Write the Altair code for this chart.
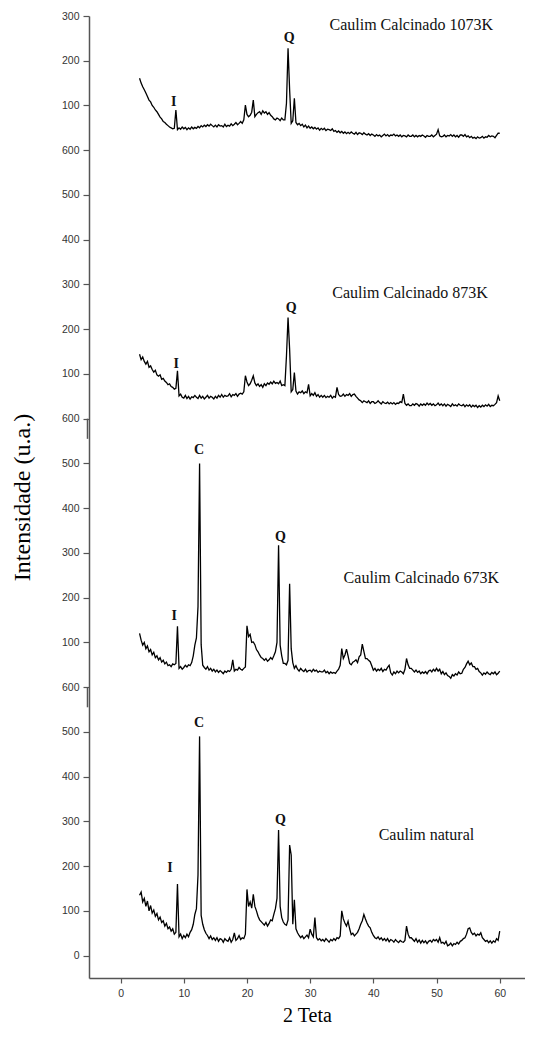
import altair as alt
import pandas as pd

# 2-theta sampling grid start / step (degrees)
theta_start = 3.0
theta_step = 0.25

# Caulim natural (panel offset 0)
natural = [
    135, 142, 120, 128,   # 3
    110, 122, 100, 112,   # 4
    95, 102, 88, 94,      # 5
    80, 86, 74, 78,       # 6
    66, 72, 60, 64,       # 7
    55, 60, 48, 52,       # 8
    160, 42, 48, 38,      # 9
    45, 40, 48, 42,       # 10
    52, 58, 70, 92,       # 11
    105, 180, 490, 90,    # 12
    70, 58, 50, 45,       # 13
    38, 44, 36, 40,       # 14
    34, 40, 32, 38,       # 15
    36, 30, 38, 34,       # 16
    32, 40, 30, 36,       # 17
    51, 34, 38, 45,       # 18
    36, 40, 38, 48,       # 19
    148, 110, 120, 106,   # 20
    137, 110, 100, 88,    # 21
    80, 76, 72, 68,       # 22
    74, 66, 72, 80,       # 23
    78, 92, 105, 128,     # 24
    281, 110, 85, 75,     # 25
    70, 68, 80, 247,      # 26
    225, 70, 125, 60,     # 27
    51, 45, 40, 44,       # 28
    38, 42, 46, 40,       # 29
    59, 48, 42, 85,       # 30
    40, 35, 38, 33,       # 31
    36, 32, 38, 34,       # 32
    30, 36, 33, 38,       # 33
    34, 40, 38, 44,       # 34
    100, 82, 73, 66,      # 35
    77, 60, 47, 50,       # 36
    44, 48, 52, 60,       # 37
    70, 78, 92, 82,       # 38
    73, 66, 62, 52,       # 39
    45, 40, 38, 42,       # 40
    36, 40, 34, 38,       # 41
    33, 38, 31, 36,       # 42
    34, 30, 36, 32,       # 43
    29, 34, 31, 30,       # 44
    34, 66, 48, 40,       # 45
    40, 36, 32, 38,       # 46
    30, 35, 28, 34,       # 47
    29, 33, 27, 32,       # 48
    34, 30, 36, 33,       # 49
    36, 30, 40, 28,       # 50
    30, 26, 32, 22,       # 51
    24, 28, 22, 27,       # 52
    25, 30, 26, 32,       # 53
    34, 38, 40, 48,       # 54
    60, 62, 52, 47,       # 55
    50, 44, 48, 46,       # 56
    51, 40, 36, 32,       # 57
    34, 29, 33, 28,       # 58
    33, 30, 38, 34,       # 59
    55,                   # 60
]

# Caulim Calcinado 673K (panel offset 600)
c673 = [
    120, 105, 94, 100,    # 3
    86, 92, 79, 84,       # 4
    72, 78, 66, 70,       # 5
    61, 66, 56, 60,       # 6
    52, 56, 48, 50,       # 7
    46, 52, 50, 53,       # 8
    136, 42, 46, 40,      # 9
    44, 49, 45, 50,       # 10
    48, 55, 70, 94,       # 11
    110, 180, 500, 95,    # 12
    49, 44, 40, 46,       # 13
    38, 42, 36, 40,       # 14
    34, 38, 33, 37,       # 15
    34, 30, 36, 33,       # 16
    37, 35, 40, 61,       # 17
    36, 40, 38, 44,       # 18
    40, 38, 42, 45,       # 19
    137, 113, 118, 100,   # 20
    101, 95, 84, 79,      # 21
    72, 66, 64, 60,       # 22
    64, 58, 61, 66,       # 23
    62, 70, 79, 100,      # 24
    317, 94, 70, 53,      # 25
    53, 50, 60, 231,      # 26
    86, 55, 42, 48,       # 27
    40, 36, 42, 38,       # 28
    35, 40, 34, 37,       # 29
    38, 34, 40, 36,       # 30
    38, 33, 36, 34,       # 31
    34, 38, 32, 35,       # 32
    30, 34, 31, 33,       # 33
    31, 36, 40, 49,       # 34
    86, 64, 72, 85,       # 35
    70, 53, 50, 56,       # 36
    58, 61, 55, 68,       # 37
    72, 96, 80, 64,       # 38
    64, 60, 57, 48,       # 39
    38, 42, 36, 40,       # 40
    37, 42, 35, 40,       # 41
    38, 44, 49, 32,       # 42
    27, 34, 30, 36,       # 43
    32, 36, 34, 30,       # 44
    40, 64, 50, 42,       # 45
    42, 38, 34, 38,       # 46
    33, 36, 30, 34,       # 47
    31, 35, 30, 36,       # 48
    38, 34, 40, 36,       # 49
    42, 36, 40, 30,       # 50
    35, 28, 32, 26,       # 51
    24, 20, 28, 25,       # 52
    30, 27, 34, 30,       # 53
    31, 40, 44, 52,       # 54
    58, 50, 54, 46,       # 55
    46, 40, 42, 35,       # 56
    32, 27, 32, 29,       # 57
    34, 30, 28, 33,       # 58
    30, 34, 28, 31,       # 59
    36,                   # 60
]

# Caulim Calcinado 873K (panel offset 1200)
c873 = [
    144, 132, 138, 128,   # 3
    122, 128, 115, 118,   # 4
    110, 104, 108, 98,    # 5
    95, 98, 88, 90,       # 6
    84, 81, 76, 78,       # 7
    72, 70, 66, 68,       # 8
    107, 51, 55, 48,      # 9
    46, 52, 45, 50,       # 10
    44, 49, 47, 52,       # 11
    48, 45, 52, 46,       # 12
    50, 44, 48, 52,       # 13
    46, 50, 48, 44,       # 14
    50, 46, 52, 48,       # 15
    54, 48, 52, 50,       # 16
    51, 56, 49, 54,       # 17
    52, 56, 50, 55,       # 18
    57, 55, 60, 96,       # 19
    82, 74, 78, 86,       # 20
    96, 80, 74, 78,       # 21
    72, 76, 70, 78,       # 22
    74, 80, 77, 82,       # 23
    78, 84, 79, 81,       # 24
    78, 84, 74, 76,       # 25
    74, 140, 226, 155,    # 26
    60, 65, 103, 62,      # 27
    55, 60, 58, 62,       # 28
    56, 60, 58, 77,       # 29
    51, 56, 52, 58,       # 30
    50, 54, 48, 52,       # 31
    48, 52, 47, 50,       # 32
    48, 52, 46, 50,       # 33
    48, 70, 54, 50,       # 34
    51, 55, 50, 54,       # 35
    52, 56, 50, 54,       # 36
    55, 50, 46, 42,       # 37
    40, 36, 40, 38,       # 38
    36, 40, 34, 38,       # 39
    38, 34, 36, 40,       # 40
    36, 33, 38, 35,       # 41
    34, 37, 33, 36,       # 42
    33, 36, 32, 35,       # 43
    34, 38, 36, 55,       # 44
    34, 30, 33, 29,       # 45
    29, 33, 30, 34,       # 46
    32, 28, 33, 30,       # 47
    33, 30, 35, 31,       # 48
    34, 30, 33, 29,       # 49
    31, 35, 30, 33,       # 50
    29, 33, 28, 32,       # 51
    30, 27, 33, 29,       # 52
    31, 28, 33, 30,       # 53
    29, 32, 27, 31,       # 54
    28, 31, 26, 30,       # 55
    27, 30, 25, 29,       # 56
    26, 30, 27, 31,       # 57
    28, 32, 27, 30,       # 58
    29, 32, 36, 51,       # 59
    40,                   # 60
]

# Caulim Calcinado 1073K (panel offset 1800)
c1073 = [
    161, 150, 142, 135,   # 3
    128, 120, 112, 108,   # 4
    100, 96, 90, 86,      # 5
    80, 74, 70, 64,       # 6
    62, 58, 55, 52,       # 7
    50, 48, 49, 90,       # 8
    46, 50, 47, 52,       # 9
    48, 51, 46, 50,       # 10
    47, 52, 48, 51,       # 11
    49, 53, 50, 55,       # 12
    52, 56, 53, 57,       # 13
    54, 58, 55, 52,       # 14
    56, 52, 57, 54,       # 15
    55, 52, 58, 53,       # 16
    56, 54, 59, 55,       # 17
    58, 62, 57, 60,       # 18
    64, 60, 68, 101,      # 19
    80, 75, 78, 85,       # 20
    112, 75, 80, 84,      # 21
    86, 80, 88, 83,       # 22
    86, 80, 84, 78,       # 23
    75, 70, 68, 72,       # 24
    70, 66, 72, 68,       # 25
    68, 105, 228, 135,    # 26
    60, 66, 116, 62,      # 27
    57, 60, 55, 58,       # 28
    52, 56, 50, 54,       # 29
    49, 52, 48, 51,       # 30
    47, 50, 45, 49,       # 31
    46, 49, 44, 47,       # 32
    46, 44, 48, 42,       # 33
    44, 40, 43, 39,       # 34
    42, 38, 41, 37,       # 35
    40, 37, 41, 38,       # 36
    36, 40, 35, 39,       # 37
    38, 35, 39, 36,       # 38
    34, 37, 33, 36,       # 39
    34, 31, 35, 32,       # 40
    34, 30, 33, 36,       # 41
    32, 35, 31, 34,       # 42
    33, 36, 32, 34,       # 43
    31, 34, 30, 33,       # 44
    32, 30, 34, 31,       # 45
    31, 34, 30, 33,       # 46
    30, 33, 31, 34,       # 47
    32, 29, 33, 31,       # 48
    31, 34, 30, 33,       # 49
    36, 46, 32, 30,       # 50
    31, 34, 30, 33,       # 51
    32, 35, 31, 34,       # 52
    30, 33, 29, 34,       # 53
    34, 31, 35, 30,       # 54
    32, 28, 31, 27,       # 55
    29, 26, 30, 27,       # 56
    28, 31, 27, 30,       # 57
    29, 33, 30, 32,       # 58
    31, 28, 33, 38,       # 59
    38,                   # 60
]

series = [
    ("Caulim natural", natural, 0),
    ("Caulim Calcinado 673K", c673, 600),
    ("Caulim Calcinado 873K", c873, 1200),
    ("Caulim Calcinado 1073K", c1073, 1800),
]

rows = []
for name, vals, off in series:
    for i, v in enumerate(vals):
        rows.append({"serie": name, "theta": theta_start + theta_step * i, "y": v + off})
df = pd.DataFrame(rows)

# peak labels (theta, stacked intensity)
peak_text = ["I", "C", "Q", "I", "C", "Q", "I", "Q", "I", "Q"]
peak_x = [7.8, 12.4, 25.3, 8.5, 12.4, 25.3, 8.8, 27.0, 8.4, 26.7]
peak_y = [195, 520, 303, 758, 1130, 936, 1322, 1447, 1908, 2051]
lab_df = pd.DataFrame({"x": peak_x, "y": peak_y, "t": peak_text})

name_text = ["Caulim natural", "Caulim Calcinado 673K", "Caulim Calcinado 873K", "Caulim Calcinado 1073K"]
name_x = [48.4, 47.6, 45.8, 46.0]
name_y = [270, 843, 1482, 2080]
name_df = pd.DataFrame({"x": name_x, "y": name_y, "t": name_text})

brk_df = pd.DataFrame({"x": [-5, -5], "y1": [555, 1155], "y2": [600, 1200]})

xscale = alt.Scale(domain=[-5, 64], nice=False, zero=False)
yscale = alt.Scale(domain=[-50, 2100], nice=False, zero=False)

y_label_expr = ("datum.value % 100 != 0 ? '' : (datum.value == 0 ? '0' : "
                "(datum.value % 600 == 0 ? '600' : '' + (datum.value % 600)))")

xaxis = alt.Axis(
    values=list(range(0, 61, 5)),
    labelExpr="datum.value % 10 == 0 ? datum.label : ''",
    tickSize={"condition": {"test": "datum.value % 10 != 0", "value": 3}, "value": 5},
    title="2 Teta",
    titleFont="Liberation Serif", titleFontSize=20, titleFontWeight="normal",
    titleColor="#000", titlePadding=7,
    labelFont="Liberation Sans", labelFontSize=10.5, labelColor="#333",
    labelPadding=5, domainColor="#555", domainWidth=1.5, tickColor="#555",
    tickWidth=1.2, grid=False,
)
yaxis = alt.Axis(
    values=list(range(0, 2101, 50)),
    labelExpr=y_label_expr,
    tickSize={"condition": {"test": "datum.value % 100 != 0", "value": 3}, "value": 6},
    title="Intensidade (u.a.)",
    titleFont="Liberation Serif", titleFontSize=24, titleFontWeight="normal",
    titleColor="#000", titlePadding=27,
    labelFont="Liberation Sans", labelFontSize=10.5, labelColor="#333",
    labelPadding=4, domainColor="#555", domainWidth=1.5, tickColor="#555",
    tickWidth=1.2, grid=False,
)

lines = alt.Chart(df).mark_line(color="black", strokeWidth=1.3).encode(
    x=alt.X("theta:Q", scale=xscale, axis=xaxis),
    y=alt.Y("y:Q", scale=yscale, axis=yaxis),
    detail="serie:N",
)

breaks = alt.Chart(brk_df).mark_rule(color="#555", strokeWidth=1.5, xOffset=-1.5).encode(
    x="x:Q", y="y1:Q", y2="y2:Q"
)

peaks = alt.Chart(lab_df).mark_text(
    font="Liberation Serif", fontSize=14, fontWeight="bold", color="#111",
    align="center", baseline="middle"
).encode(x="x:Q", y="y:Q", text="t:N")

names = alt.Chart(name_df).mark_text(
    font="Liberation Serif", fontSize=16, color="#111",
    align="center", baseline="middle"
).encode(x="x:Q", y="y:Q", text="t:N")

chart = alt.layer(lines, breaks, peaks, names).properties(
    width=436, height=962,
    padding={"left": 2, "top": 3, "right": 0, "bottom": 0},
).configure_view(stroke=None)

chart.save("out.html", embed_options={"renderer": "svg", "actions": False})
